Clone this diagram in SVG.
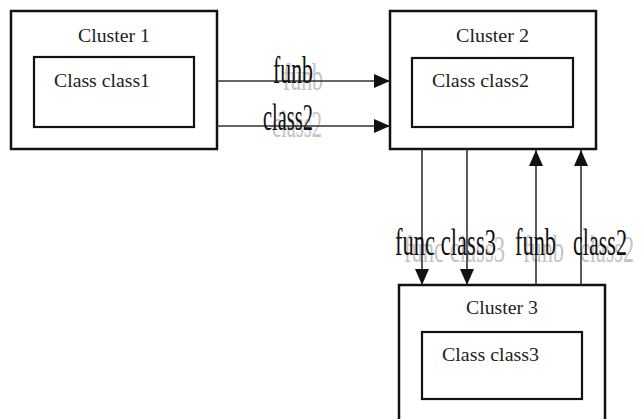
<svg xmlns="http://www.w3.org/2000/svg" width="643" height="419" viewBox="0 0 643 419">
<defs>
<style>
.outer{fill:#fff;stroke:#111;stroke-width:2.5}
.inner{fill:#fff;stroke:#111;stroke-width:2.2}
.ttl{font-family:"Liberation Serif","Times New Roman",serif;font-size:19px;fill:#222}
.edge{stroke:#333;stroke-width:1.6;fill:none;marker-end:url(#arr)}
.lbl{font-family:"Liberation Serif","Times New Roman",serif;font-size:38px;fill:#111}
.ghost{font-family:"Liberation Serif","Times New Roman",serif;font-size:38px;fill:#c4c4c4}
</style>
<marker id="arr" markerUnits="userSpaceOnUse" markerWidth="16" markerHeight="14" refX="16" refY="7" orient="auto">
<path d="M0,0 L16,7 L0,14 z" fill="#111"/>
</marker>
</defs>
<rect width="643" height="419" fill="#fff"/>
<g id="cluster1">
<rect class="outer" x="11" y="11" width="206" height="138"/>
<text class="ttl" x="78" y="42" textLength="72" lengthAdjust="spacingAndGlyphs">Cluster 1</text>
<g id="class1">
<rect class="inner" x="34" y="57" width="160" height="70"/>
<text class="ttl" x="54" y="87" textLength="96" lengthAdjust="spacingAndGlyphs">Class class1</text>
</g>
</g>
<g id="cluster2">
<rect class="outer" x="390" y="11" width="206" height="138"/>
<text class="ttl" x="456" y="42" textLength="73" lengthAdjust="spacingAndGlyphs">Cluster 2</text>
<g id="class2">
<rect class="inner" x="412" y="58" width="161" height="69"/>
<text class="ttl" x="432" y="87" textLength="97" lengthAdjust="spacingAndGlyphs">Class class2</text>
</g>
</g>
<g id="cluster3">
<rect class="outer" x="399" y="285" width="206" height="150"/>
<text class="ttl" x="466" y="314" textLength="72" lengthAdjust="spacingAndGlyphs">Cluster 3</text>
<g id="class3">
<rect class="inner" x="422" y="332" width="160" height="67"/>
<text class="ttl" x="442" y="361" textLength="97" lengthAdjust="spacingAndGlyphs">Class class3</text>
</g>
</g>
<g id="connectors">
<g id="labels-ghost">
<text class="ghost" x="283" y="90" textLength="40" lengthAdjust="spacingAndGlyphs">funb</text>
<text class="ghost" x="272" y="137" textLength="50" lengthAdjust="spacingAndGlyphs">class2</text>
<text class="ghost" x="404" y="262" textLength="101" lengthAdjust="spacingAndGlyphs">func class3</text>
<text class="ghost" x="523" y="262" textLength="41" lengthAdjust="spacingAndGlyphs">funb</text>
<text class="ghost" x="580" y="262" textLength="54" lengthAdjust="spacingAndGlyphs">class2</text>
</g>
<path class="edge" d="M217,81 L390,81"/>
<path class="edge" d="M217,126 L390,126"/>
<path class="edge" d="M422,149 L422,285"/>
<path class="edge" d="M467,149 L467,285"/>
<path class="edge" d="M536,285 L536,150"/>
<path class="edge" d="M581,285 L581,150"/>
<text class="lbl" x="273" y="83" textLength="40" lengthAdjust="spacingAndGlyphs">funb</text>
<text class="lbl" x="263" y="130" textLength="50" lengthAdjust="spacingAndGlyphs">class2</text>
<text class="lbl" x="395" y="255" textLength="101" lengthAdjust="spacingAndGlyphs">func class3</text>
<text class="lbl" x="515" y="255" textLength="41" lengthAdjust="spacingAndGlyphs">funb</text>
<text class="lbl" x="573" y="255" textLength="54" lengthAdjust="spacingAndGlyphs">class2</text>
</g>
</svg>
